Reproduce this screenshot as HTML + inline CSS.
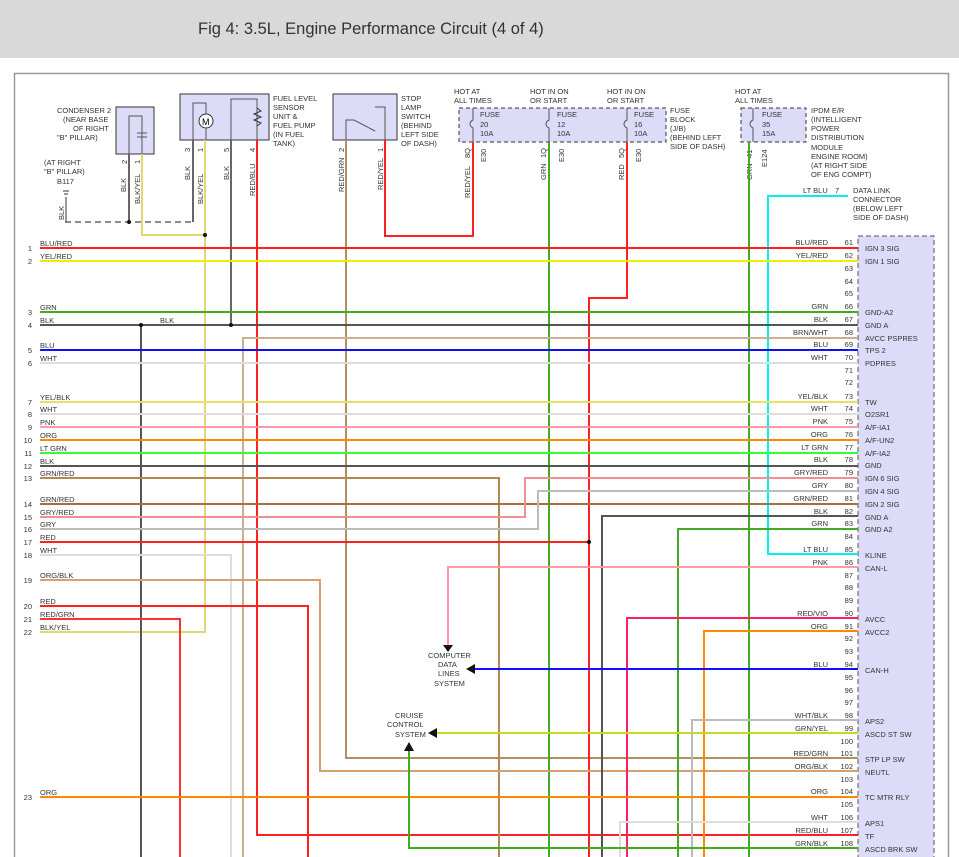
<!DOCTYPE html>
<html><head><meta charset="utf-8"><style>
html,body{margin:0;padding:0;background:#fff;}
svg{display:block;font-family:"Liberation Sans",sans-serif;}
</style></head><body>
<svg width="959" height="857" viewBox="0 0 959 857" xmlns="http://www.w3.org/2000/svg">
<rect x="0" y="0" width="959" height="58" fill="#d9d9d9"/>
<text x="198" y="34" font-size="16.5" fill="#333">Fig 4: 3.5L, Engine Performance Circuit (4 of 4)</text>
<rect x="14.5" y="73.5" width="934" height="800" fill="none" stroke="#999" stroke-width="1.5"/>

<!-- module box -->
<rect x="858" y="236" width="76" height="640" fill="#dcdcf8" stroke="#555" stroke-dasharray="5,3"/>

<!-- top components -->
<rect x="116" y="107" width="38" height="47" fill="#dcdcf8" stroke="#333"/>
<path d="M129 154V116H142V154M137 133H147M137 137H147" stroke="#555" fill="none"/>
<rect x="180" y="94" width="89" height="46" fill="#dcdcf8" stroke="#333"/>
<circle cx="206" cy="121" r="7" fill="#fff" stroke="#333"/><text x="202" y="125" font-size="9">M</text>
<path d="M193 140V103H206V114M206 128V140M231 140V99H257V140" stroke="#555" fill="none"/>
<path d="M257 108l4 3-7 3 7 3-7 3 7 3-4 3" stroke="#333" fill="none"/>
<rect x="333" y="94" width="64" height="46" fill="#dcdcf8" stroke="#333"/>
<path d="M346 140V120H354L375 131M375 107H385V140" stroke="#555" fill="none"/>
<rect x="459" y="108" width="207" height="34" fill="#dcdcf8" stroke="#333" stroke-dasharray="4,3"/>
<rect x="741" y="108" width="65" height="34" fill="#dcdcf8" stroke="#333" stroke-dasharray="4,3"/>
<path d="M473 108v12c-4 2-4 6 0 8v14M549 108v12c-4 2-4 6 0 8v14M627 108v12c-4 2-4 6 0 8v14M753 108v12c-4 2-4 6 0 8v14" stroke="#555" fill="none"/>

<g font-size="7.5" fill="#333">
<text x="57" y="113">CONDENSER 2</text><text x="63" y="122">(NEAR BASE</text><text x="73" y="131">OF RIGHT</text><text x="57" y="140">"B" PILLAR)</text>
<text x="44" y="165">(AT RIGHT</text><text x="44" y="174">"B" PILLAR)</text><text x="57" y="184">B117</text>
<text x="273" y="101">FUEL LEVEL</text><text x="273" y="110">SENSOR</text><text x="273" y="119">UNIT &amp;</text><text x="273" y="128">FUEL PUMP</text><text x="273" y="137">(IN FUEL</text><text x="273" y="146">TANK)</text>
<text x="401" y="101">STOP</text><text x="401" y="110">LAMP</text><text x="401" y="119">SWITCH</text><text x="401" y="128">(BEHIND</text><text x="401" y="137">LEFT SIDE</text><text x="401" y="146">OF DASH)</text>
<text x="454" y="94">HOT AT</text><text x="454" y="103">ALL TIMES</text>
<text x="530" y="94">HOT IN ON</text><text x="530" y="103">OR START</text>
<text x="607" y="94">HOT IN ON</text><text x="607" y="103">OR START</text>
<text x="735" y="94">HOT AT</text><text x="735" y="103">ALL TIMES</text>
<text x="480" y="117">FUSE</text><text x="480" y="127">20</text><text x="480" y="136">10A</text>
<text x="557" y="117">FUSE</text><text x="557" y="127">12</text><text x="557" y="136">10A</text>
<text x="634" y="117">FUSE</text><text x="634" y="127">16</text><text x="634" y="136">10A</text>
<text x="762" y="117">FUSE</text><text x="762" y="127">35</text><text x="762" y="136">15A</text>
<text x="670" y="113">FUSE</text><text x="670" y="122">BLOCK</text><text x="670" y="131">(J/B)</text><text x="670" y="140">(BEHIND LEFT</text><text x="670" y="149">SIDE OF DASH)</text>
<text x="811" y="113">IPDM E/R</text><text x="811" y="122">(INTELLIGENT</text><text x="811" y="131">POWER</text><text x="811" y="140">DISTRIBUTION</text><text x="811" y="150">MODULE</text><text x="811" y="159">ENGINE ROOM)</text><text x="811" y="168">(AT RIGHT SIDE</text><text x="811" y="177">OF ENG COMPT)</text>
<text x="803" y="193">LT BLU</text><text x="835" y="193">7</text>
<text x="853" y="193">DATA LINK</text><text x="853" y="202">CONNECTOR</text><text x="853" y="211">(BELOW LEFT</text><text x="853" y="220">SIDE OF DASH)</text>
<text x="428" y="658">COMPUTER</text><text x="438" y="667">DATA</text><text x="438" y="676">LINES</text><text x="434" y="686">SYSTEM</text>
<text x="395" y="718">CRUISE</text><text x="387" y="727">CONTROL</text><text x="395" y="737">SYSTEM</text>
<g transform="rotate(-90)">
<text x="-192" y="126">BLK</text><text x="-204" y="140">BLK/YEL</text>
<text x="-180" y="190">BLK</text><text x="-204" y="203">BLK/YEL</text><text x="-180" y="229">BLK</text><text x="-196" y="255">RED/BLU</text>
<text x="-192" y="344">RED/GRN</text><text x="-190" y="383">RED/YEL</text><text x="-198" y="470">RED/YEL</text>
<text x="-180" y="546">GRN</text><text x="-180" y="624">RED</text><text x="-180" y="752">GRN</text>
<text x="-220" y="64">BLK</text>
<text x="-164" y="127">2</text><text x="-164" y="140">1</text><text x="-152" y="190">3</text><text x="-152" y="203">1</text><text x="-152" y="229">5</text><text x="-152" y="255">4</text>
<text x="-152" y="344">2</text><text x="-152" y="383">1</text><text x="-158" y="470">8Q</text><text x="-158" y="546">1Q</text><text x="-158" y="624">5Q</text><text x="-158" y="752">41</text>
<text x="-162" y="486">E30</text><text x="-162" y="564">E30</text><text x="-162" y="641">E30</text><text x="-167" y="767">E124</text>
</g>
</g>

<!-- ground -->
<path d="M65 222H193V140M129 154V222" stroke="#666" fill="none" stroke-width="1.5" stroke-dasharray="6,4"/>
<path d="M129 154V222M193 140V222" stroke="#666" stroke-width="2"/>
<path d="M63 191h6M64 194h4M66 197v25" stroke="#333" fill="none"/>
<g fill="none" stroke-width="2">
<path d="M142 154V235H205M205 140V632H40" stroke="#e0d870"/>
<path d="M231 140V325" stroke="#666"/>
<path d="M257 140V835H858" stroke="#ff2020"/>
<path d="M346 140V758H858" stroke="#b09060"/>
<path d="M385 140V236H473V142" stroke="#ff2020"/>
<path d="M549 142V857" stroke="#44aa22"/>
<path d="M627 142V298H589V857" stroke="#ff2020"/>
<path d="M749 142V857" stroke="#44aa22"/>
<path d="M848 196H768V554H858" stroke="#00f0f0"/>
<path d="M40 248H858" stroke="#ff2020"/>
<path d="M40 261H858" stroke="#eeee00"/>
<path d="M40 312H858" stroke="#44aa22"/>
<path d="M40 325H858M141 325V857" stroke="#555"/>
<path d="M243 857V338H858" stroke="#c8b090"/>
<path d="M40 350H858" stroke="#1010ff"/>
<path d="M40 363H858" stroke="#ddd"/>
<path d="M40 402H858" stroke="#e8e060"/>
<path d="M40 414H858" stroke="#ddd"/>
<path d="M40 427H858" stroke="#ff99aa"/>
<path d="M40 440H858" stroke="#ff8800"/>
<path d="M40 453H858" stroke="#33ff33"/>
<path d="M40 466H858" stroke="#555"/>
<path d="M40 478H499V857" stroke="#b08a50"/>
<path d="M40 504H858" stroke="#a07040"/>
<path d="M40 517H525V478H858" stroke="#f09090"/>
<path d="M40 529H538V491H858" stroke="#bbb"/>
<path d="M40 542H589" stroke="#ff2020"/>
<path d="M40 555H231V857" stroke="#ddd"/>
<path d="M40 580H320V771H858" stroke="#d8a070"/>
<path d="M40 606H308V857" stroke="#ff2020"/>
<path d="M40 619H180V857" stroke="#ff3030"/>
<path d="M858 516H602V857" stroke="#555"/>
<path d="M858 529H678V857" stroke="#44aa22"/>
<path d="M858 567H448V645" stroke="#ff99aa"/>
<path d="M858 618H627V857" stroke="#ff2060"/>
<path d="M858 631H704V857" stroke="#ff8800"/>
<path d="M858 669H475" stroke="#1010ff"/>
<path d="M858 720H692V857" stroke="#bbb"/>
<path d="M858 733H437" stroke="#c8d820"/>
<path d="M40 797H858" stroke="#ff8800"/>
<path d="M858 822H620V857" stroke="#ddd"/>
<path d="M858 848H409V750" stroke="#44aa22"/>
</g>
<path d="M443 645h10l-5 7z M466 669l9-5v10z M428 733l9-5v10z M409 742l-5 9h10z" fill="#111"/>
<g fill="#111"><circle cx="129" cy="222" r="2"/><circle cx="205" cy="235" r="2"/><circle cx="141" cy="325" r="2"/><circle cx="231" cy="325" r="2"/><circle cx="589" cy="542" r="2"/></g>

<g font-size="7.5" fill="#333">
<text x="40" y="246">BLU/RED</text><text x="40" y="259">YEL/RED</text><text x="40" y="310">GRN</text><text x="40" y="323">BLK</text><text x="160" y="323">BLK</text>
<text x="40" y="348">BLU</text><text x="40" y="361">WHT</text><text x="40" y="400">YEL/BLK</text><text x="40" y="412">WHT</text><text x="40" y="425">PNK</text><text x="40" y="438">ORG</text><text x="40" y="451">LT GRN</text><text x="40" y="464">BLK</text><text x="40" y="476">GRN/RED</text>
<text x="40" y="502">GRN/RED</text><text x="40" y="515">GRY/RED</text><text x="40" y="527">GRY</text><text x="40" y="540">RED</text><text x="40" y="553">WHT</text><text x="40" y="578">ORG/BLK</text><text x="40" y="604">RED</text><text x="40" y="617">RED/GRN</text><text x="40" y="630">BLK/YEL</text><text x="40" y="795">ORG</text>
<g text-anchor="end">
<text x="32" y="251">1</text><text x="32" y="264">2</text><text x="32" y="315">3</text><text x="32" y="328">4</text><text x="32" y="353">5</text><text x="32" y="366">6</text><text x="32" y="405">7</text><text x="32" y="417">8</text><text x="32" y="430">9</text><text x="32" y="443">10</text><text x="32" y="456">11</text><text x="32" y="469">12</text><text x="32" y="481">13</text><text x="32" y="507">14</text><text x="32" y="520">15</text><text x="32" y="532">16</text><text x="32" y="545">17</text><text x="32" y="558">18</text><text x="32" y="583">19</text><text x="32" y="609">20</text><text x="32" y="622">21</text><text x="32" y="635">22</text><text x="32" y="800">23</text>
</g>
<g text-anchor="end">
<text x="828" y="245">BLU/RED</text><text x="853" y="245">61</text>
<text x="828" y="258">YEL/RED</text><text x="853" y="258">62</text>
<text x="853" y="271">63</text><text x="853" y="284">64</text><text x="853" y="296">65</text>
<text x="828" y="309">GRN</text><text x="853" y="309">66</text>
<text x="828" y="322">BLK</text><text x="853" y="322">67</text>
<text x="828" y="335">BRN/WHT</text><text x="853" y="335">68</text>
<text x="828" y="347">BLU</text><text x="853" y="347">69</text>
<text x="828" y="360">WHT</text><text x="853" y="360">70</text>
<text x="853" y="373">71</text><text x="853" y="385">72</text>
<text x="828" y="399">YEL/BLK</text><text x="853" y="399">73</text>
<text x="828" y="411">WHT</text><text x="853" y="411">74</text>
<text x="828" y="424">PNK</text><text x="853" y="424">75</text>
<text x="828" y="437">ORG</text><text x="853" y="437">76</text>
<text x="828" y="450">LT GRN</text><text x="853" y="450">77</text>
<text x="828" y="462">BLK</text><text x="853" y="462">78</text>
<text x="828" y="475">GRY/RED</text><text x="853" y="475">79</text>
<text x="828" y="488">GRY</text><text x="853" y="488">80</text>
<text x="828" y="501">GRN/RED</text><text x="853" y="501">81</text>
<text x="828" y="514">BLK</text><text x="853" y="514">82</text>
<text x="828" y="526">GRN</text><text x="853" y="526">83</text>
<text x="853" y="539">84</text>
<text x="828" y="552">LT BLU</text><text x="853" y="552">85</text>
<text x="828" y="565">PNK</text><text x="853" y="565">86</text>
<text x="853" y="578">87</text><text x="853" y="590">88</text><text x="853" y="603">89</text>
<text x="828" y="616">RED/VIO</text><text x="853" y="616">90</text>
<text x="828" y="629">ORG</text><text x="853" y="629">91</text>
<text x="853" y="641">92</text><text x="853" y="654">93</text>
<text x="828" y="667">BLU</text><text x="853" y="667">94</text>
<text x="853" y="680">95</text><text x="853" y="693">96</text><text x="853" y="705">97</text>
<text x="828" y="718">WHT/BLK</text><text x="853" y="718">98</text>
<text x="828" y="731">GRN/YEL</text><text x="853" y="731">99</text>
<text x="853" y="744">100</text>
<text x="828" y="756">RED/GRN</text><text x="853" y="756">101</text>
<text x="828" y="769">ORG/BLK</text><text x="853" y="769">102</text>
<text x="853" y="782">103</text>
<text x="828" y="794">ORG</text><text x="853" y="794">104</text>
<text x="853" y="807">105</text>
<text x="828" y="820">WHT</text><text x="853" y="820">106</text>
<text x="828" y="833">RED/BLU</text><text x="853" y="833">107</text>
<text x="828" y="846">GRN/BLK</text><text x="853" y="846">108</text>
</g>
<text x="865" y="251">IGN 3 SIG</text><text x="865" y="264">IGN 1 SIG</text><text x="865" y="315">GND-A2</text><text x="865" y="328">GND A</text><text x="865" y="341">AVCC PSPRES</text><text x="865" y="353">TPS 2</text><text x="865" y="366">PDPRES</text>
<text x="865" y="405">TW</text><text x="865" y="417">O2SR1</text><text x="865" y="430">A/F-IA1</text><text x="865" y="443">A/F-UN2</text><text x="865" y="456">A/F-IA2</text><text x="865" y="468">GND</text><text x="865" y="481">IGN 6 SIG</text><text x="865" y="494">IGN 4 SIG</text><text x="865" y="507">IGN 2 SIG</text><text x="865" y="520">GND A</text><text x="865" y="532">GND A2</text>
<text x="865" y="558">KLINE</text><text x="865" y="571">CAN-L</text><text x="865" y="622">AVCC</text><text x="865" y="635">AVCC2</text><text x="865" y="673">CAN-H</text>
<text x="865" y="724">APS2</text><text x="865" y="737">ASCD ST SW</text><text x="865" y="762">STP LP SW</text><text x="865" y="775">NEUTL</text><text x="865" y="800">TC MTR RLY</text><text x="865" y="826">APS1</text><text x="865" y="839">TF</text><text x="865" y="852">ASCD BRK SW</text>
</g>
</svg>
</body></html>
